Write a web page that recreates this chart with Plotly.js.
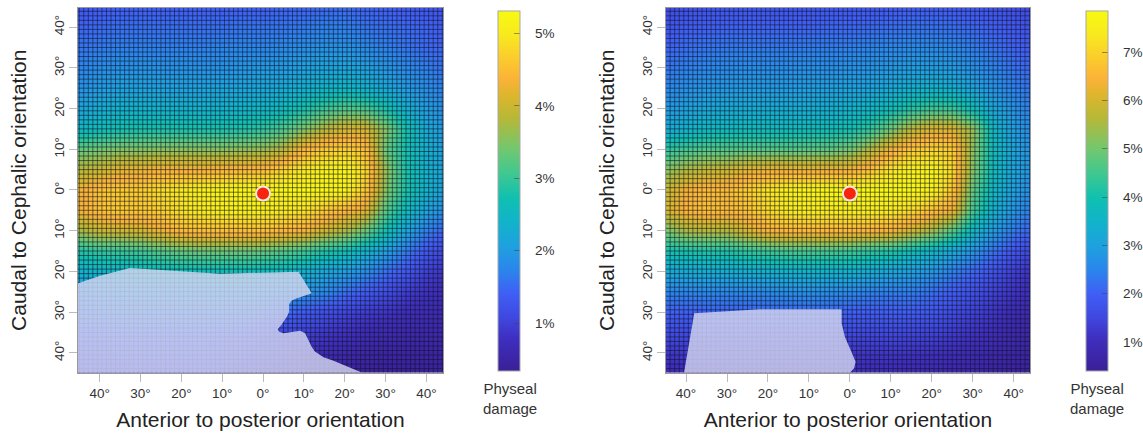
<!DOCTYPE html>
<html><head><meta charset="utf-8">
<script src="https://cdn.plot.ly/plotly-3.0.1.min.js"></script>
<style>html,body{margin:0;padding:0;background:#fff}#c{width:1143px;height:433px}</style>
</head><body><div id="c"></div>
<script>
const angleX=[-45,-40,-35,-30,-25,-20,-15,-10,-5,0,5,10,15,20,25,30,35,40,45];
const angleY=[45,40,35,30,25,20,15,10,5,0,-5,-10,-15,-20,-25,-30,-35,-40,-45];
const tickAngles=[-40,-30,-20,-10,0,10,20,30,40];
const tickLabels=['40°','30°','20°','10°','0°','10°','20°','30°','40°'];
const damageLeft=[
[1.3,1.35,1.4,1.4,1.4,1.4,1.4,1.4,1.4,1.4,1.45,1.45,1.5,1.5,1.45,1.4,1.35,1.3,1.25],
[1.45,1.5,1.55,1.55,1.55,1.55,1.55,1.55,1.6,1.6,1.6,1.65,1.7,1.7,1.6,1.55,1.5,1.45,1.35],
[1.6,1.65,1.7,1.7,1.7,1.7,1.7,1.75,1.75,1.75,1.8,1.85,1.9,1.9,1.8,1.7,1.6,1.5,1.45],
[1.75,1.85,1.9,1.9,1.9,1.9,1.9,1.9,1.95,2.0,2.0,2.1,2.15,2.15,2.1,1.95,1.8,1.7,1.55],
[1.9,2.0,2.1,2.1,2.1,2.1,2.1,2.15,2.15,2.2,2.25,2.35,2.45,2.5,2.4,2.2,2.0,1.85,1.7],
[2.15,2.3,2.4,2.4,2.4,2.4,2.4,2.4,2.45,2.5,2.6,2.8,3.05,3.2,3.15,2.8,2.35,2.05,1.85],
[2.5,2.65,2.75,2.8,2.8,2.8,2.8,2.8,2.85,2.95,3.15,3.5,3.85,4.1,4.1,3.5,2.75,2.25,1.95],
[3.3,3.4,3.5,3.5,3.55,3.55,3.55,3.55,3.6,3.65,3.85,4.4,4.65,4.7,4.55,3.3,2.75,2.35,2.05],
[3.85,4.0,4.2,4.25,4.35,4.35,4.35,4.4,4.45,4.5,4.75,5.0,5.15,5.2,4.8,3.6,2.8,2.4,2.1],
[4.3,4.55,4.65,4.65,4.85,5.0,5.15,5.2,5.25,5.25,5.25,5.25,5.25,5.15,4.65,3.5,2.8,2.4,2.05],
[4.3,4.55,4.65,4.6,4.7,4.9,5.05,5.1,5.1,5.1,5.0,4.9,4.65,4.4,4.2,3.2,2.6,2.15,1.8],
[3.7,3.95,4.0,4.05,4.25,4.45,4.5,4.5,4.5,4.5,4.4,4.3,4.0,3.75,3.35,2.7,2.15,1.7,1.4],
[2.85,2.95,3.0,3.05,3.2,3.3,3.35,3.35,3.35,3.3,3.2,3.05,2.85,2.7,2.4,2.05,1.65,1.3,1.05],
[2.35,2.45,2.5,2.55,2.6,2.65,2.65,2.65,2.65,2.6,2.55,2.4,2.2,2.05,1.85,1.55,1.3,1.0,.85],
[2.0,2.05,2.1,2.15,2.2,2.2,2.2,2.2,2.2,2.1,2.0,1.9,1.8,1.55,1.35,1.15,.95,.8,.7],
[1.7,1.75,1.8,1.8,1.8,1.8,1.8,1.8,1.75,1.65,1.5,1.35,1.2,1.05,.95,.85,.75,.7,.65],
[1.45,1.45,1.5,1.5,1.5,1.5,1.5,1.45,1.4,1.25,1.1,1.0,.9,.8,.7,.65,.6,.6,.6],
[1.2,1.2,1.25,1.25,1.25,1.25,1.25,1.2,1.1,1.0,.9,.8,.7,.6,.55,.5,.5,.5,.5],
[.95,1.0,1.0,1.0,1.0,1.0,1.0,.95,.85,.8,.7,.6,.5,.45,.4,.4,.4,.4,.45]];
const damageRight=[
[1.6,1.7,1.75,1.8,1.8,1.8,1.8,1.8,1.85,1.85,1.85,1.9,1.95,1.95,1.9,1.85,1.75,1.65,1.6],
[1.8,1.95,2,2.05,2.05,2.05,2.05,2.05,2.1,2.1,2.15,2.2,2.25,2.25,2.2,2.1,2,1.85,1.75],
[2.05,2.2,2.3,2.35,2.35,2.35,2.35,2.4,2.4,2.45,2.5,2.55,2.6,2.6,2.55,2.4,2.25,2.05,1.9],
[2.3,2.45,2.55,2.6,2.65,2.65,2.65,2.7,2.7,2.75,2.8,2.85,2.95,2.95,2.9,2.7,2.5,2.25,2.1],
[2.55,2.7,2.8,2.85,2.9,2.9,2.9,2.95,3.0,3.05,3.1,3.25,3.4,3.5,3.4,3.1,2.75,2.45,2.25],
[2.85,3.05,3.2,3.25,3.3,3.3,3.3,3.35,3.4,3.5,3.65,3.9,4.25,4.5,4.45,3.9,3.15,2.75,2.4],
[3.25,3.5,3.7,3.75,3.8,3.8,3.8,3.85,3.9,4.0,4.35,5.0,5.7,6.1,6.1,5.3,3.65,2.95,2.55],
[4.3,4.5,4.65,4.65,4.7,4.7,4.7,4.75,4.8,5.0,5.6,6.3,6.8,7.0,6.9,5.2,3.8,3.1,2.7],
[5.2,5.6,5.8,5.9,6.2,6.3,6.3,6.3,6.3,6.35,6.75,7.3,7.6,7.65,7.1,5.1,3.8,3.1,2.7],
[5.8,6.4,6.6,6.6,6.9,7.3,7.6,7.7,7.8,7.8,7.8,7.8,7.8,7.6,6.8,4.8,3.65,3.0,2.6],
[6.0,6.5,6.7,6.6,6.7,7.1,7.4,7.5,7.5,7.5,7.5,7.4,7.1,6.7,6.3,4.5,3.45,2.8,2.35],
[5.0,5.5,5.6,5.6,6.0,6.4,6.5,6.5,6.5,6.5,6.4,6.3,5.9,5.4,4.7,3.6,2.9,2.35,2.0],
[4.0,4.05,4.15,4.15,4.3,4.45,4.55,4.55,4.55,4.45,4.3,4.15,3.85,3.55,3.2,2.75,2.25,1.8,1.45],
[3.25,3.3,3.35,3.35,3.4,3.45,3.5,3.5,3.5,3.45,3.3,3.15,3.0,2.8,2.45,2.1,1.75,1.35,1.1],
[2.5,2.5,2.55,2.55,2.55,2.6,2.65,2.7,2.65,2.55,2.45,2.4,2.4,2.2,1.95,1.7,1.4,1.15,.95],
[2.0,2.0,2.05,2.05,2.05,2.1,2.1,2.1,2.1,2.0,1.95,1.95,1.95,1.85,1.6,1.4,1.2,.95,.8],
[1.6,1.6,1.6,1.6,1.6,1.6,1.6,1.6,1.6,1.55,1.55,1.55,1.5,1.45,1.3,1.15,1.0,.8,.7],
[1.2,1.25,1.25,1.25,1.25,1.25,1.25,1.25,1.25,1.2,1.2,1.2,1.15,1.1,1.0,.9,.8,.7,.6],
[.9,.95,1,1,1,1,1,1,1,1,.95,.9,.85,.8,.75,.7,.6,.55,.5]];
const regionLeftX=[-45.3,-39.9,-32.6,-25.2,-10.5,8.7,11.9,7.8,7,6.4,6.4,5.9,5.4,4.6,3.6,3.9,5,6.6,9.1,10.3,11.1,11.9,12.7,14.8,17.1,24.3,-45.3];
const regionLeftY=[-22.9,-21.1,-19.2,-19.7,-20.6,-20.1,-25.4,-26.8,-27.2,-28,-29.9,-31,-31.9,-33,-34.2,-34.8,-35.2,-35,-34.6,-35.2,-36.9,-38.5,-39.7,-41.1,-41.9,-44.9,-44.9];
const regionRightX=[-40.5,-38,-22,-2,-2,-1.2,0.4,1.4,1.05,0];
const regionRightY=[-44.9,-30.3,-29.3,-29.3,-32.8,-36.1,-39.8,-42.2,-43.8,-44.9];
const markerX=[0],markerY=[-0.9];
const colorTicksLeft=[1,2,3,4,5],colorTicksRight=[1,2,3,4,5,6,7];
const gridCells=81;

const cs=[[0,'#3a1f96'],[.09,'#3f2fc0'],[.15,'#3f48e0'],[.215,'#3f5ff5'],[.28,'#2a85ec'],[.345,'#1fa0e0'],[.42,'#10b5c8'],[.48,'#10c0b0'],[.55,'#40c890'],[.615,'#70c870'],[.70,'#b5b838'],[.765,'#dcb62c'],[.81,'#fbb238'],[.87,'#fbcc2c'],[.93,'#f8e820'],[1,'#f8fa10']];
const W=1143,H=433,font='"Liberation Sans",Arial,sans-serif';
const gridLines=()=>{const xs=[],ys=[];
  for(let i=0;i<=gridCells;i++){const g=-45+i*90/gridCells;
    xs.push(g,g,null);ys.push(-46,46,null);xs.push(-46,46,null);ys.push(g,g,null);}
  return {xs,ys};};
const gl=gridLines();
function panel(n,z,zmin,zmax,rx,ry,cbx,ticks){
  const xa='x'+(n>1?n:''),ya='y'+(n>1?n:'');
  return [
   {type:'heatmap',x:angleX,y:angleY,z:z,xaxis:xa,yaxis:ya,zmin,zmax,zsmooth:'best',colorscale:cs,hoverinfo:'skip',
    colorbar:{x:cbx/W,xref:'paper',xanchor:'left',y:1-11/H,yanchor:'top',yref:'paper',lenmode:'pixels',len:360,thicknessmode:'pixels',thickness:22,xpad:0,ypad:0,
      tickmode:'array',tickvals:ticks,ticktext:ticks.map(v=>'\u00a0\u00a0\u00a0'+v+'%'),ticks:'inside',ticklen:6,tickwidth:1,tickcolor:'rgba(70,70,60,.55)',outlinecolor:'#a8a8a8',outlinewidth:1,borderwidth:0,
      tickfont:{family:font,size:13.5,color:'#333'}}},
   {type:'scatter',mode:'lines',x:gl.xs,y:gl.ys,xaxis:xa,yaxis:ya,line:{color:'rgba(20,20,40,.58)',width:1},hoverinfo:'skip',showlegend:false},
   {type:'scatter',mode:'lines',x:rx,y:ry,xaxis:xa,yaxis:ya,fill:'toself',fillcolor:'rgba(215,217,244,.8)',line:{width:0},hoverinfo:'skip',showlegend:false},
   {type:'scatter',mode:'markers',x:markerX,y:markerY,xaxis:xa,yaxis:ya,marker:{size:14,color:'#f7250c',line:{color:'#f4e6e0',width:2}},hoverinfo:'skip',showlegend:false}
  ];
}
function xAxis(l,r,range,yname){return {domain:[l/W,r/W],range,anchor:yname,tickmode:'array',tickvals:tickAngles,ticktext:tickLabels,ticks:'outside',ticklen:8,tickwidth:1,tickcolor:'#bbb',showgrid:false,zeroline:false,showline:true,linecolor:'#999',linewidth:1,mirror:true,tickfont:{family:font,size:13.5,color:'#333'},
  title:{text:'Anterior to posterior orientation',font:{family:font,size:21,color:'#222'},standoff:12}};}
function yAxis(xname){return {domain:[1-372.5/H,1-8/H],range:[-44.85,44.7],anchor:xname,tickmode:'array',tickvals:tickAngles,ticktext:tickLabels,tickangle:-90,ticks:'outside',ticklen:8,tickwidth:1,tickcolor:'#bbb',showgrid:false,zeroline:false,showline:true,linecolor:'#999',linewidth:1,mirror:true,tickfont:{family:font,size:13.5,color:'#333'},
  title:{text:'Caudal to Cephalic orientation',font:{family:font,size:21,color:'#222'},standoff:19}};}
const note=(px)=>({xref:'paper',yref:'paper',x:px/W,y:1-398/H,text:'Physeal<br>damage',showarrow:false,xanchor:'center',yanchor:'middle',align:'center',font:{family:font,size:15,color:'#333'}});
Plotly.newPlot('c',[
  ...panel(1,damageLeft,0.34,5.31,regionLeftX,regionLeftY,498,colorTicksLeft),
  ...panel(2,damageRight,0.4,7.85,regionRightX,regionRightY,1086,colorTicksRight)
],{width:W,height:H,margin:{l:0,r:0,t:0,b:0,autoexpand:false},paper_bgcolor:'#fff',plot_bgcolor:'#fff',showlegend:false,
  xaxis:xAxis(78,443,[-45.3,44.06],'y'),yaxis:yAxis('x'),
  xaxis2:xAxis(666,1030,[-44.9,44.0],'y2'),yaxis2:yAxis('x2'),
  annotations:[note(510),note(1097)]
},{displayModeBar:false,staticPlot:true});
</script></body></html>
